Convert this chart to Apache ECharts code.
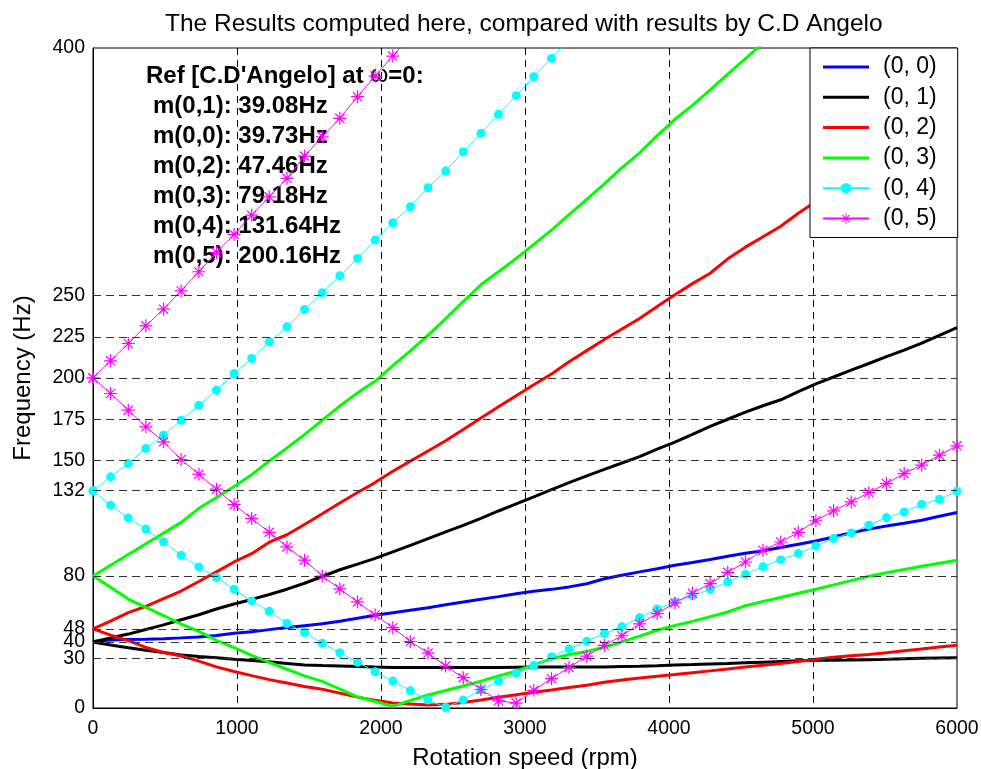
<!DOCTYPE html>
<html><head><meta charset="utf-8">
<script src="https://cdn.jsdelivr.net/npm/echarts@6/dist/echarts.min.js"></script>
<style>html,body{margin:0;padding:0;background:#fff}#c{width:981px;height:769px}</style>
</head><body><div id="c"></div>
<script>
// Rotation speed samples (rpm), 50 points
const rpm = [0,122,245,367,490,612,735,857,980,1102,1224,1347,1469,1592,1714,1837,1959,2082,2204,2327,2449,2571,2694,2816,2939,3061,3184,3306,3429,3551,3673,3796,3918,4041,4163,4286,4408,4531,4653,4776,4898,5020,5143,5265,5388,5510,5633,5755,5878,6000];
const xTicks = [0,1000,2000,3000,4000,5000,6000];
const yTicks = [0,30,40,48,80,132,150,175,200,225,250,400];
const legendNames = ['(0, 0)','(0, 1)','(0, 2)','(0, 3)','(0, 4)','(0, 5)'];

// (0,0)
const m00 = [40.3,41.2,41.5,41.7,42,42.5,43.1,44,45.3,46.2,47.5,48.8,49.9,51.0,52.6,54.4,56.2,57.7,59.3,60.8,62.6,64.2,65.9,67.5,69.2,70.8,71.9,73.4,75.3,78.3,80.5,82.5,84.4,86.5,88.2,90,92,93.8,95.3,97.3,99.2,101.2,103.6,106.2,108.4,110.3,112,113.8,116.2,118.5];
// (0,1)
const m01Up = [40,42.5,44.8,47.6,50.4,53.5,56.5,60,63,65.8,68.8,72,75.6,79.7,83.8,87.2,90.7,94.6,98.6,102.6,106.7,110.7,114.9,119.4,123.7,128,132.4,136.6,140.7,144.6,148.5,152.3,156.9,161.2,165.9,170.7,175,179.3,183.2,186.8,191.8,196.4,200.6,204.8,208.8,213,216.9,221.2,225.9,230.6];
const m01Lo = [40,38.2,36.5,35,33.6,32.2,31.2,30.5,29.6,28.8,28,27,26,25.7,25.5,25.2,24.8,24.6,24.5,24.5,24.5,24.5,24.6,24.6,24.7,24.8,24.9,24.9,24.9,24.9,25.1,25.3,25.6,26,26.3,26.7,27,27.4,27.8,28.2,28.6,28.9,29,29.1,29.3,29.5,29.8,30.1,30.3,30.5];
// (0,2)
const m02Up = [48,52.6,57.8,61.6,66.3,70.9,76.7,82.5,88.5,93.5,100.5,105,111.2,117.7,124.2,130.6,136.6,143.5,149.6,155.8,162,168.8,175.8,182.6,189.3,195.9,202.4,209.8,216.6,223.3,229.7,236.1,243.4,250.4,257.2,263.5,272.2,279.3,285.6,292,299.8,307,314,321,328,335,342,349,355.5,362.4];
const m02Lo = [48,44.2,40.8,36.7,33.6,31.5,28.4,24.9,22.1,19.6,17.2,15.1,13,11.4,9,6.6,4.7,3,2.4,1.8,2.2,3.3,4.9,6.5,8,9.5,10.9,12.4,13.8,15.6,17,18.2,19.3,20.3,21.4,22.5,23.6,24.8,25.9,27,28.2,29.5,30.7,31.7,32.4,33.5,34.7,35.8,36.9,38];
// (0,3)
const m03Up = [80,86.5,93,99.5,106,112.5,121,127.6,134.2,141.4,149.7,157.6,165.7,174.5,183,191,198,207.5,216.5,226,236,246.3,256.5,264.4,272.5,281,289.6,299,308.3,317.6,327.5,336.5,346.9,356.8,365.2,374.6,384.2,393.5,403];
const m03Lo = [80,73.2,66,61,56,50.9,46.4,41,36.6,31.9,27.6,23.5,19.5,16.1,11.5,6.8,3.9,1,4.6,7.9,10.6,13.3,16.3,19.4,22.3,26.3,29.8,32.4,34.3,36.8,40.1,43.6,47.1,50,52.5,55.4,58.2,62,64.5,67,69.5,72,74.6,77.2,79.8,82,84,85.9,87.7,89.6];
// (0,4)
const m04Up = [131.6,140.1,148.2,157.3,165.3,174.4,183.5,192.6,202.7,211.8,221.9,231,241.5,251.6,262,272.5,283.6,294.1,303.8,315.3,325.4,337.1,348.3,359.8,371.1,382.6,393.7,405.5];
const m04Lo = [131.6,122.9,115.2,108.5,100.7,92.6,85.5,79.1,72,64.9,58.6,51.2,45.7,39.2,33.5,27.7,22,16.3,10.5,4.9,0.3,4.9,11,16.3,21,25.7,31.1,35.8,40.5,45.1,49.3,54.8,60,64.2,68,71.9,76.4,81.1,85.7,89.9,93.6,98.2,102.7,106.1,110.8,115.4,118.8,123.5,126.5,131.4];
// (0,5)
const m05Up = [200,210.4,220.9,231.6,241.7,252.8,264.4,276.1,287,298.7,309.8,321,334.5,346.2,357.4,370.5,383,395.1,407];
const m05Lo = [200,190.6,180.5,170.4,161.3,150.6,141.7,132.6,123.3,114.8,106.5,97.6,89.6,80,72.2,64.3,56.4,48.7,40.3,33.3,25.4,18.4,11.2,4.4,3,10.7,17.8,24.6,31.4,38,43.8,51,57.2,63.7,69.5,75.4,82.2,88.5,95.6,100.6,106.5,113.5,119.5,124.9,130.6,136,142.1,147.2,153.2,158.9];

const refTitle = "Ref [C.D'Angelo] at ";
const refLines = ['m(0,1): 39.08Hz','m(0,0): 39.73Hz','m(0,2): 47.46Hz','m(0,3): 79.18Hz','m(0,4): 131.64Hz','m(0,5): 200.16Hz'];

const FONT = '"Liberation Sans", Arial, sans-serif';
const ASTER = 'path://M0,11.8L26,11.8L26,14.2L0,14.2Z M11.8,0L14.2,0L14.2,26L11.8,26Z M3,4.7L4.7,3L23,21.3L21.3,23Z M21.3,3L23,4.7L4.7,23L3,21.3Z';
const LINE_ICON = 'path://M0,0L0,0M46,13L46,13M0,5L46,5L46,8L0,8Z';

function pts(vals){ return vals.map((v,i)=>[rpm[i], v]); }

const colors = ['#0000ff','#000000','#ff0000','#00ff00','#00ffff','#ff00ff'];
const branches = [
  [0, m00], [1, m01Up], [1, m01Lo], [2, m02Up], [2, m02Lo],
  [3, m03Up], [3, m03Lo], [4, m04Up], [4, m04Lo], [5, m05Up], [5, m05Lo]
];

const series = [{
  type:'line', data:[], z:1, silent:true, animation:false,
  markLine:{ silent:true, animation:false, symbol:['none','none'], label:{show:false},
    lineStyle:{type:[8,5], color:'#333', width:1},
    data: yTicks.filter(v=>v>0&&v<400).map(v=>({yAxis:v})) }
}];
branches.forEach(([k, vals])=>{
  const s = { name: legendNames[k], type:'line', data: pts(vals), animation:false,
    lineStyle:{color:colors[k], width:3}, itemStyle:{color:colors[k]}, symbol:'none', z:2 };
  if (k===4){ s.symbol='circle'; s.symbolSize=9; s.lineStyle.width=1; }
  if (k===5){ s.symbol=ASTER; s.symbolSize=13; s.lineStyle.width=1; }
  series.push(s);
});

const graphics = [{
  type:'text', x:146, y:76, z:0,
  style:{ text:'{a|'+refTitle+'}{w|ω}{a|=0:}', fill:'#000', verticalAlign:'middle', align:'left',
    rich:{ a:{fontFamily:FONT, fontWeight:'bold', fontSize:24, lineHeight:30},
           w:{fontFamily:FONT, fontWeight:'normal', fontSize:23, lineHeight:30} } }
}];
refLines.forEach((t,i)=>{
  graphics.push({ type:'text', x:153, y:106.5+30*i, z:0,
    style:{ text:t, fill:'#000', font:'bold 24px '+FONT, verticalAlign:'middle', align:'left' } });
});

const chart = echarts.init(document.getElementById('c'), null, {renderer:'canvas'});
chart.setOption({
  backgroundColor:'#fff',
  animation:false,
  title:{ text:'The Results computed here, compared with results by C.D Angelo', left:160, top:7,
    textStyle:{fontFamily:FONT, fontSize:24.5, fontWeight:'normal', color:'#000'} },
  grid:{ left:93, right:24, top:48, bottom:61, show:true, borderColor:'#000', borderWidth:1, backgroundColor:'#fff',
    containLabel:false, outerBoundsMode:'none' },
  legend:{ data:legendNames.map((n,i)=> i<4 ? {name:n, icon:LINE_ICON} : {name:n}),
    orient:'vertical', left:810, top:48, backgroundColor:'#fff', borderColor:'#000', borderWidth:1,
    borderRadius:0, padding:[7,21,7,12], itemGap:6.3, itemWidth:46, itemHeight:13,
    textStyle:{fontFamily:FONT, fontSize:23, color:'#000', lineHeight:24, padding:[0,0,0,9]} },
  xAxis:{ type:'value', min:xTicks[0], max:xTicks[xTicks.length-1], interval:1000,
    name:'Rotation speed (rpm)', nameLocation:'middle', nameGap:38,
    nameTextStyle:{fontFamily:FONT, fontSize:24, color:'#000'},
    axisLine:{show:true, lineStyle:{color:'#000', width:1}}, axisTick:{show:false},
    axisLabel:{color:'#000', fontFamily:FONT, fontSize:19.5, margin:10.5, formatter:v=>String(v)},
    splitLine:{show:true, showMinLine:false, showMaxLine:false, lineStyle:{color:'#000', type:[7,5], width:1}} },
  yAxis:{ type:'value', min:0, max:400, interval:50,
    name:'Frequency (Hz)', nameLocation:'middle', nameGap:58,
    nameTextStyle:{fontFamily:FONT, fontSize:24, color:'#000'},
    axisLine:{show:true, lineStyle:{color:'#000', width:1}}, axisTick:{show:false},
    axisLabel:{color:'#000', fontFamily:FONT, fontSize:19.5, margin:8, customValues:yTicks, formatter:v=>String(v)},
    splitLine:{show:false} },
  graphic: graphics,
  series: series
});
</script></body></html>
